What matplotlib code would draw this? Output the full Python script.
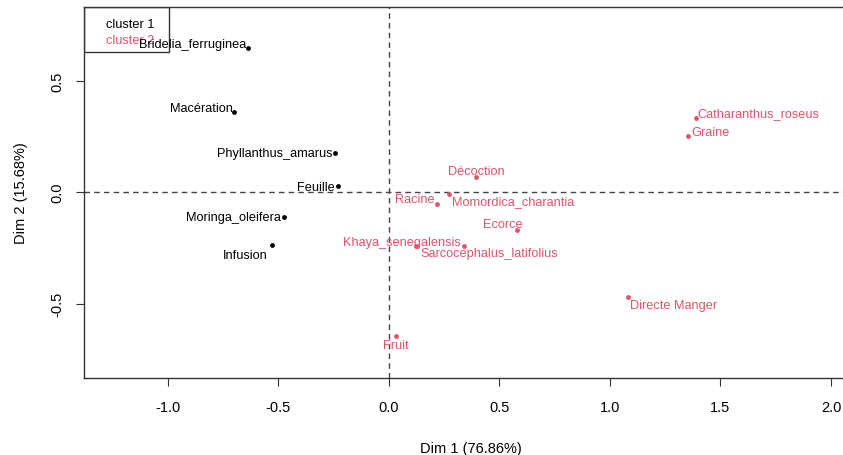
import matplotlib
matplotlib.use("Agg")
import matplotlib.pyplot as plt
from matplotlib.patches import Rectangle

plt.rcParams['font.family'] = ['Liberation Sans', 'DejaVu Sans']

# cluster 1 (black)
c1_labels = ["Bridelia_ferruginea", "Macération", "Phyllanthus_amarus",
             "Feuille", "Moringa_oleifera", "Infusion"]
c1_x = [-0.638, -0.700, -0.244, -0.231, -0.475, -0.530]
c1_y = [0.646, 0.359, 0.175, 0.027, -0.112, -0.238]

# cluster 2 (red)
c2_labels = ["Catharanthus_roseus", "Graine", "Décoction", "Momordica_charantia",
             "Racine", "Ecorce", "Khaya_senegalensis", "Sarcocephalus_latifolius",
             "Fruit", "Directe Manger"]
c2_x = [1.388, 1.354, 0.394, 0.273, 0.219, 0.578, 0.122, 0.339, 0.032, 1.080]
c2_y = [0.330, 0.251, 0.069, -0.009, -0.054, -0.169, -0.241, -0.244, -0.644, -0.469]

dim1_pct = 76.86
dim2_pct = 15.68
legend_labels = ["cluster 1", "cluster 2"]

# label placement (ha, dx, dy in points), like the repel in the original
c1_off = [("right", -1, 3), ("right", -1, 3), ("right", -2, 0),
          ("right", -2, -1), ("right", -2, 0), ("center", -19, -7)]
c2_off = [("left", 1, 4), ("left", 2, 3), ("center", 0, 4), ("left", 2, -5),
          ("right", -2, 4), ("center", -10, 4), ("right", 32, 3), ("left", -31, -5),
          ("center", 0, -7), ("left", 2, -6)]

black = "#000000"
red = "#DF536B"
lab_fs = 9.2

fig = plt.figure(figsize=(8.43, 4.56), dpi=100)
W, H = 843, 456
x_left, x_right = -1.380, 2.12
y_bot, y_top = -0.834, 0.830
ax_w = (x_right - x_left) * 221
ax_h = 371
ax = fig.add_axes([84 / W, (H - 379) / H, ax_w / W, ax_h / H])
ax.set_xlim(x_left, x_right)
ax.set_ylim(y_bot, y_top)

ax.axhline(0, color="#444444", ls=(0, (4, 3)), lw=1)
ax.axvline(0, color="#444444", ls=(0, (4, 3)), lw=1)

ax.scatter(c1_x, c1_y, s=6, color=black, zorder=3)
ax.scatter(c2_x, c2_y, s=6, color=red, zorder=3)

for lab, x, y, (ha, dx, dy) in zip(c1_labels, c1_x, c1_y, c1_off):
    ax.annotate(lab, (x, y), xytext=(dx, dy), textcoords="offset points",
                ha=ha, va="center", fontsize=lab_fs, color=black, zorder=4)
for lab, x, y, (ha, dx, dy) in zip(c2_labels, c2_x, c2_y, c2_off):
    ax.annotate(lab, (x, y), xytext=(dx, dy), textcoords="offset points",
                ha=ha, va="center", fontsize=lab_fs, color=red, zorder=4)

ax.set_xticks([-1.0, -0.5, 0.0, 0.5, 1.0, 1.5, 2.0])
ax.set_yticks([-0.5, 0.0, 0.5])
ax.set_xticklabels(["-1.0", "-0.5", "0.0", "0.5", "1.0", "1.5", "2.0"])
ax.set_yticklabels(["-0.5", "0.0", "0.5"], rotation=90, va="center")
ax.tick_params(direction="out", length=6, width=0.8, colors="#333333",
               labelsize=10.5, labelcolor="black")
ax.tick_params(axis="x", pad=10)
ax.tick_params(axis="y", pad=8)
for sp in ax.spines.values():
    sp.set_color("#333333")
    sp.set_linewidth(1)

ax.set_xlabel(f"Dim 1 ({dim1_pct}%)", fontsize=10.5, labelpad=19)
ax.set_ylabel(f"Dim 2 ({dim2_pct}%)", fontsize=10.5, labelpad=16)

# legend box drawn by hand (R style legend, text only)
ax.add_patch(Rectangle((0, 1 - 45 / ax_h), 85 / ax_w, 45 / ax_h,
                       transform=ax.transAxes, facecolor="white",
                       edgecolor="#333333", lw=1, zorder=2))
for i, (lab, col) in enumerate(zip(legend_labels, [black, red])):
    ax.text(22 / ax_w, 1 - (17 + 16 * i) / ax_h, lab, transform=ax.transAxes,
            ha="left", va="center", fontsize=lab_fs, color=col, zorder=3)

fig.savefig("out.png", dpi=100)
